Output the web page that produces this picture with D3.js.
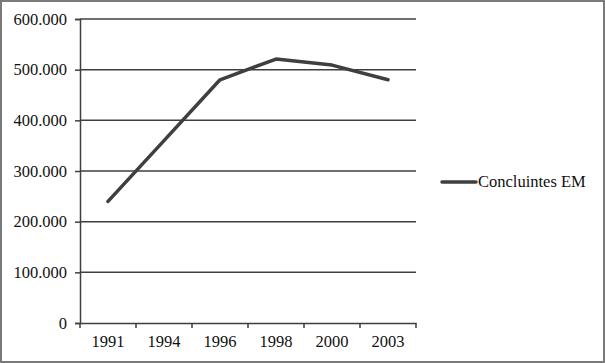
<!DOCTYPE html>
<html>
<head>
<meta charset="utf-8">
<script src="https://cdnjs.cloudflare.com/ajax/libs/d3/7.8.5/d3.min.js"></script>
<style>
  body { margin: 0; background: #fff; }
  svg { display: block; }
</style>
</head>
<body>
<div id="graph"></div>
<script>
// Chart data
var years = ["1991", "1994", "1996", "1998", "2000", "2003"];
var concluintes = [240000, 360000, 480000, 521000, 509000, 480000];
var yTicks = [0, 100000, 200000, 300000, 400000, 500000, 600000];
var seriesName = "Concluintes EM";

var width = 605, height = 363;
var margin = { left: 80, right: 189, top: 19, bottom: 40 };

var svg = d3.select("#graph").append("svg")
    .attr("width", width)
    .attr("height", height);

// outer frame
svg.append("rect")
    .attr("x", 1).attr("y", 1)
    .attr("width", width - 2).attr("height", height - 2)
    .style("fill", "#fff")
    .style("stroke", "#7a7a7a")
    .style("stroke-width", 2);

var x = d3.scaleBand()
    .domain(years)
    .range([margin.left, width - margin.right]);

var y = d3.scaleLinear()
    .domain([0, 600000])
    .range([height - margin.bottom, margin.top]);

var locale = d3.formatLocale({ decimal: ",", thousands: ".", grouping: [3], currency: ["", ""] });
var fmt = locale.format(",");

var ink = "#3f3f3f";
var font = "Liberation Serif";
var fontSize = 16.5;

// gridlines
svg.selectAll(".grid")
    .data(yTicks.filter(function(d) { return d > 0; }))
    .enter().append("line")
    .attr("class", "grid")
    .attr("x1", margin.left)
    .attr("x2", width - margin.right)
    .attr("y1", function(d) { return y(d); })
    .attr("y2", function(d) { return y(d); })
    .style("stroke", ink)
    .style("stroke-width", 1.5);

// y axis
var yAxis = svg.append("g")
    .attr("transform", "translate(" + margin.left + ",0)")
    .call(d3.axisLeft(y).tickValues(yTicks).tickFormat(fmt).tickSize(5).tickPadding(8));

// x axis: ticks at category boundaries
var xAxis = svg.append("g")
    .attr("transform", "translate(0," + y(0) + ")")
    .call(d3.axisBottom(x).tickSize(0).tickPadding(12));

var bounds = years.map(function(d) { return x(d); }).concat([x.range()[1]]);
xAxis.selectAll(".bound")
    .data(bounds)
    .enter().append("line")
    .attr("class", "bound")
    .attr("x1", function(d) { return d; })
    .attr("x2", function(d) { return d; })
    .attr("y1", 0)
    .attr("y2", 5)
    .style("stroke", ink)
    .style("stroke-width", 1.5);

[yAxis, xAxis].forEach(function(a) {
    a.attr("font-family", font).attr("font-size", fontSize);
    a.select(".domain").style("stroke", ink).style("stroke-width", 1.5);
    a.selectAll(".tick line").style("stroke", ink).style("stroke-width", 1.5);
    a.selectAll("text")
        .attr("font-family", font)
        .attr("font-size", fontSize)
        .attr("fill", "#111");
});

// series line
var line = d3.line()
    .x(function(d, i) { return x(years[i]) + x.bandwidth() / 2; })
    .y(function(d) { return y(d); });

svg.append("path")
    .datum(concluintes)
    .attr("d", line)
    .style("fill", "none")
    .style("stroke", ink)
    .style("stroke-width", 3.5)
    .style("stroke-linejoin", "round")
    .style("stroke-linecap", "round");

// legend
var legend = svg.append("g").attr("transform", "translate(442,182)");
legend.append("line")
    .attr("x1", 0).attr("x2", 34)
    .attr("y1", 0).attr("y2", 0)
    .style("stroke", ink)
    .style("stroke-width", 3.5)
    .style("stroke-linecap", "round");
legend.append("text")
    .attr("x", 36)
    .attr("y", 5)
    .attr("font-family", font)
    .attr("font-size", fontSize)
    .attr("fill", "#111")
    .text(seriesName);
</script>
</body>
</html>
